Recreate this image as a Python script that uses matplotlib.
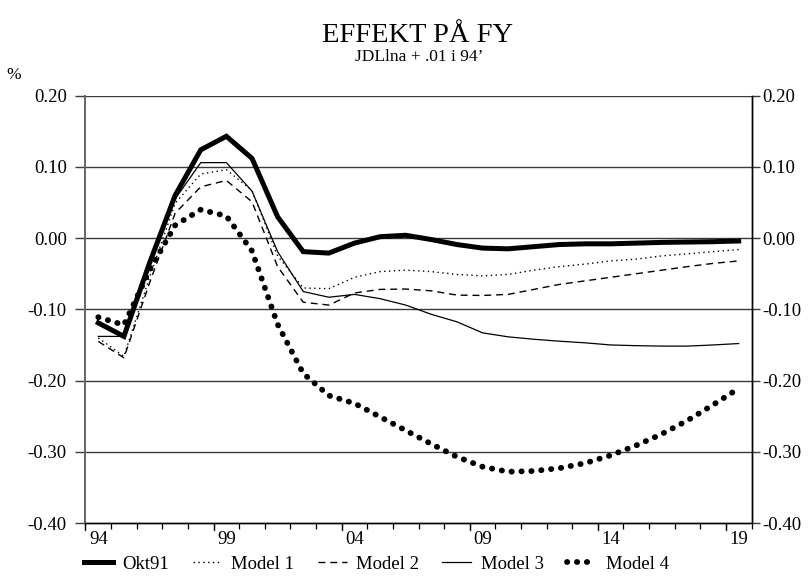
import matplotlib
matplotlib.use("Agg")
import matplotlib.pyplot as plt
import numpy as np

plt.rcParams['font.family'] = ['Liberation Serif', 'DejaVu Serif']

years = list(range(1994, 2020))
tick_years = [1994, 1999, 2004, 2009, 2014, 2019]
tick_labels = ['94', '99', '04', '09', '14', '19']
y_ticks = [-0.40, -0.30, -0.20, -0.10, 0.00, 0.10, 0.20]

okt91 = [-0.119, -0.138, -0.035, 0.060, 0.124, 0.143, 0.112, 0.030, -0.019, -0.021,
         -0.007, 0.002, 0.004, -0.002, -0.009, -0.014, -0.015, -0.012, -0.009, -0.008,
         -0.008, -0.007, -0.006, -0.0055, -0.005, -0.004]
model1 = [-0.140, -0.166, -0.055, 0.049, 0.090, 0.096, 0.067, -0.025, -0.070, -0.071,
          -0.055, -0.047, -0.045, -0.047, -0.051, -0.053, -0.051, -0.045, -0.040, -0.0365,
          -0.032, -0.0295, -0.025, -0.022, -0.019, -0.016]
model2 = [-0.145, -0.168, -0.063, 0.035, 0.072, 0.081, 0.051, -0.040, -0.090, -0.094,
          -0.077, -0.072, -0.0715, -0.074, -0.080, -0.0805, -0.079, -0.072, -0.065, -0.060,
          -0.055, -0.050, -0.045, -0.040, -0.0355, -0.032]
model3 = [-0.138, -0.138, -0.030, 0.055, 0.106, 0.106, 0.066, -0.019, -0.075, -0.083,
          -0.079, -0.085, -0.094, -0.107, -0.1175, -0.133, -0.1386, -0.142, -0.1447, -0.147,
          -0.150, -0.151, -0.1516, -0.1516, -0.150, -0.148]
model4 = [-0.111, -0.122, -0.045, 0.018, 0.040, 0.031, -0.018, -0.121, -0.190, -0.221,
          -0.232, -0.251, -0.270, -0.289, -0.307, -0.321, -0.328, -0.327, -0.323, -0.316,
          -0.305, -0.291, -0.275, -0.256, -0.234, -0.211]

fig = plt.figure(figsize=(8.08, 5.87), dpi=100)
ax = fig.add_axes([0.1058, 0.109, 0.8243, 0.728])

for v in y_ticks[1:]:
    ax.axhline(v, color='#3a3a3a', lw=1.0, zorder=1)

ax.plot(years, model1, color='black', lw=1.0, ls=(0, (1, 2.5)), label='Model 1', zorder=3)
ax.plot(years, model2, color='black', lw=1.0, ls=(0, (5, 3.5)), label='Model 2', zorder=3)
ax.plot(years, model3, color='black', lw=0.9, ls='-', label='Model 3', zorder=3)
ax.plot(years, model4, color='black', lw=4.2, ls=(0, (0.05, 1.65)),
        dash_capstyle='round', label='Model 4', zorder=4)
ax.plot(years, okt91, color='black', lw=3.6, ls='-', solid_joinstyle='miter',
        label='Okt91', zorder=5)

ax.set_xlim(1993.5, 2019.5)
ax.set_ylim(-0.40, 0.20)

ax.set_xticks(tick_years)
ax.set_xticklabels(tick_labels, fontsize=13.5)
ax.tick_params(axis='x', which='major', length=0, pad=6)
bounds = np.arange(1993.5, 2019.6, 1.0)
ax.set_xticks(bounds, minor=True)
ax.tick_params(axis='x', which='minor', direction='out', length=4, width=0.9, color='black')
for b in bounds[::5]:
    ax.plot([b, b], [0, -0.016], transform=ax.get_xaxis_transform(), color='black',
            lw=0.9, clip_on=False)

ytl = [f'{v:.2f}' for v in y_ticks]
ax.set_yticks(y_ticks)
ax.set_yticklabels(ytl, fontsize=13.5)
ax.tick_params(axis='y', which='major', direction='out', length=7, width=1.0,
               left=True, right=False, labelleft=True, labelright=False, pad=6.5,
               color='#3a3a3a')

# right-hand scale with its own tick spacing
axr = ax.twinx()
axr.set_ylim(ax.get_ylim())
axr.set_yticks(y_ticks)
axr.set_yticklabels(ytl, fontsize=13.5)
axr.tick_params(axis='y', which='major', direction='out', length=6, width=1.0,
                pad=1.5, color='#3a3a3a')
for a in (ax, axr):
    a.spines['top'].set_visible(False)
    a.spines['left'].set_color('#666666')
    a.spines['left'].set_linewidth(1.2)
    a.spines['right'].set_color('black')
    a.spines['right'].set_linewidth(1.0)
    a.spines['bottom'].set_color('black')
    a.spines['bottom'].set_linewidth(1.0)

fig.text(0.517, 1 - 35 / 587, 'EFFEKT PÅ FY', ha='center', va='center', fontsize=20.5)
fig.text(0.519, 1 - 57 / 587, 'JDLlna + .01 i 94’', ha='center', va='center', fontsize=12.5)
fig.text(14 / 808, 1 - 75 / 587, '%', ha='center', va='center', fontsize=12.5)

handles, labels = ax.get_legend_handles_labels()
order = ['Okt91', 'Model 1', 'Model 2', 'Model 3', 'Model 4']
hmap = dict(zip(labels, handles))
leg = fig.legend([hmap[k] for k in order], order, loc='center left',
                 bbox_to_anchor=(84 / 808, 1 - 564 / 587), ncol=5, frameon=False,
                 fontsize=13.5, handlelength=1.55, handletextpad=0.5, columnspacing=1.25,
                 borderpad=0, borderaxespad=0)

fig.savefig('out.png', dpi=100)
